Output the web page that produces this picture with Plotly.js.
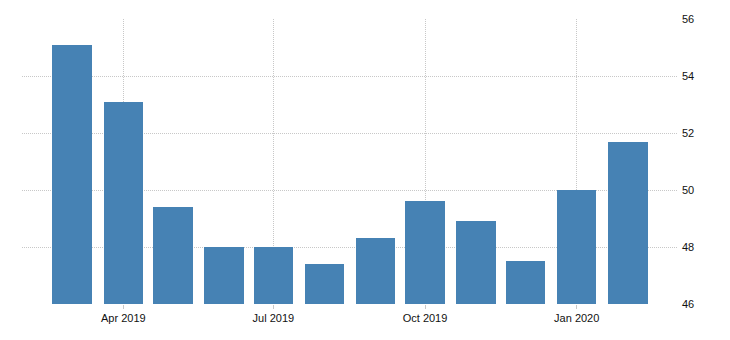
<!DOCTYPE html>
<html>
<head>
<meta charset="utf-8">
<script src="https://cdn.plot.ly/plotly-3.0.1.min.js"></script>
<style>html,body{margin:0;padding:0;background:#fff;}#chart{width:730px;height:340px;}</style>
</head>
<body>
<div id="chart"></div>
<script>
const months = ['2019-03-01','2019-04-01','2019-05-01','2019-06-01','2019-07-01','2019-08-01','2019-09-01','2019-10-01','2019-11-01','2019-12-01','2020-01-01','2020-02-01'];
const values = [55.1, 53.1, 49.4, 48.0, 48.0, 47.4, 48.3, 49.6, 48.9, 47.5, 50.0, 51.7];
const yTicks = [46, 48, 50, 52, 54, 56];

const DAY = 86400000;
const trace = {
  type: 'bar',
  x: months,
  y: values,
  width: months.map(() => 24 * DAY),
  marker: {color: '#4682b4'},
  hoverinfo: 'x+y'
};

const layout = {
  width: 730, height: 340,
  margin: {l: 22, r: 53, t: 19, b: 36},
  paper_bgcolor: '#fff', plot_bgcolor: '#fff',
  showlegend: false,
  bargap: 0,
  font: {family: 'Liberation Sans, Arial, sans-serif', size: 11, color: '#111'},
  xaxis: {
    type: 'date',
    range: ['2019-01-29 13:00', '2020-03-01 20:00'],
    tick0: '2019-01-01', dtick: 'M3',
    tickformat: '%b %Y',
    showgrid: true, gridcolor: '#c8c8c8', griddash: '1px,1px', gridwidth: 1,
    ticks: 'outside', ticklen: 4, tickcolor: '#c8c8c8',
    showline: false, zeroline: false,
    fixedrange: true
  },
  yaxis: {
    side: 'right',
    range: [46, 56],
    tickvals: yTicks,
    ticktext: yTicks.map(String),
    showgrid: true, gridcolor: '#c8c8c8', griddash: '1px,1px', gridwidth: 1,
    ticks: '', showline: false, zeroline: false,
    ticklabelstandoff: 4,
    fixedrange: true
  }
};

Plotly.newPlot('chart', [trace], layout, {displayModeBar: false, staticPlot: true});
</script>
</body>
</html>
